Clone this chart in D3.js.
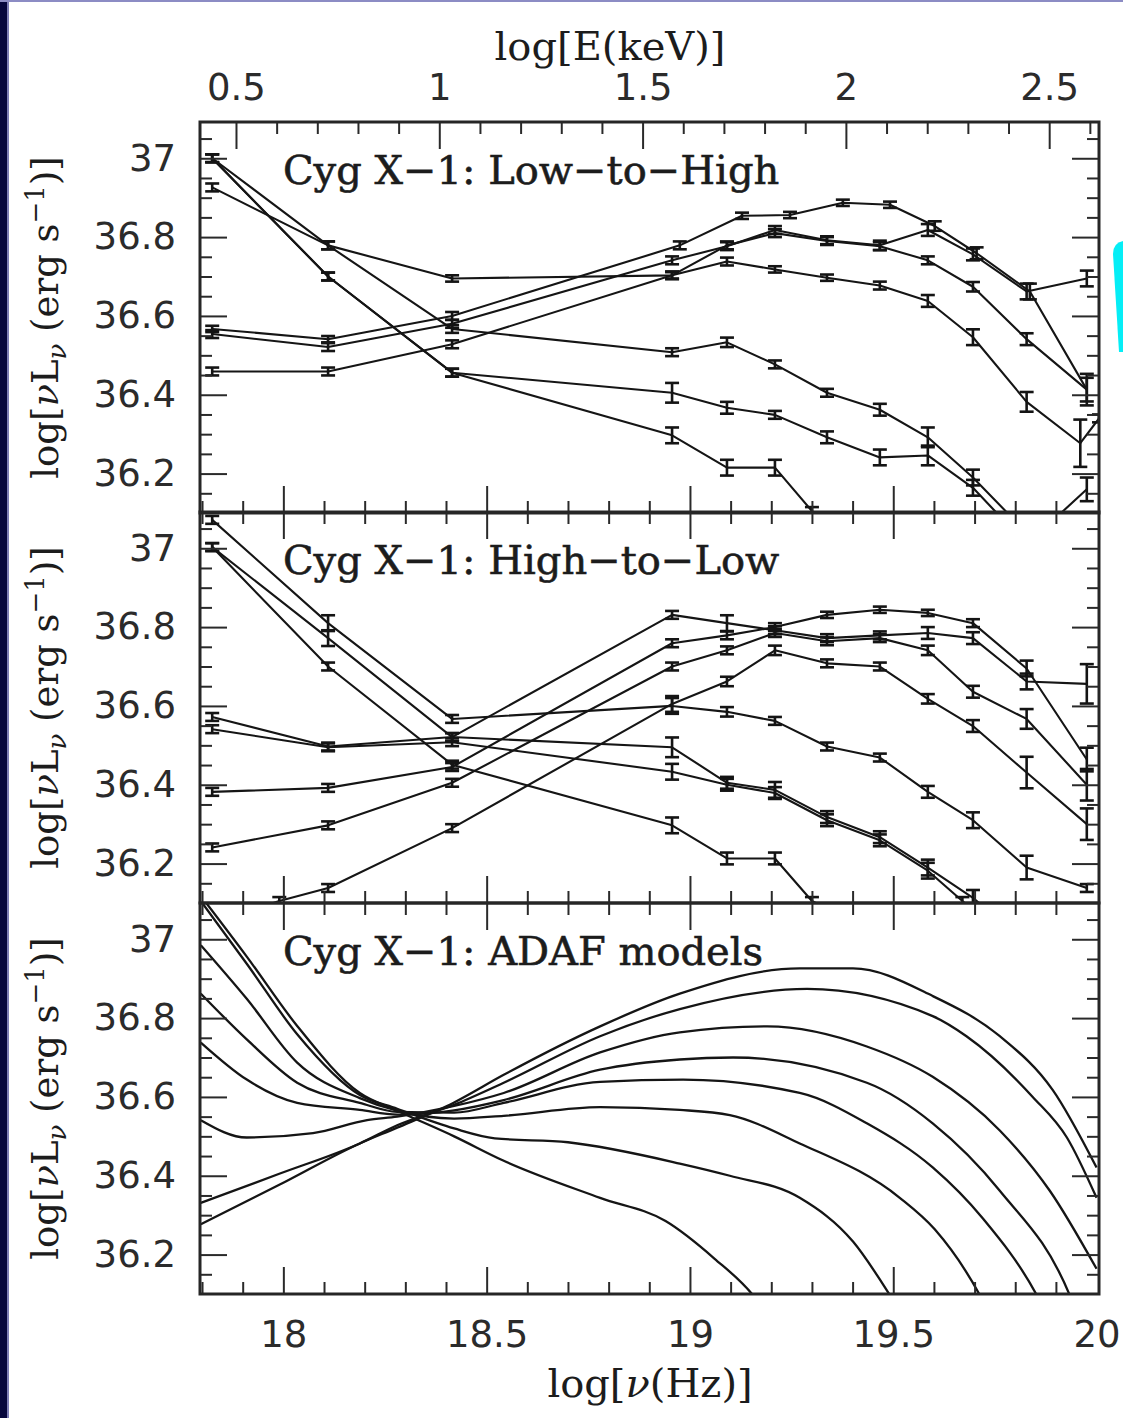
<!DOCTYPE html>
<html>
<head>
<meta charset="utf-8">
<script src="https://cdn.jsdelivr.net/npm/d3@7"></script>
<style>
  html, body { margin: 0; padding: 0; background: #fff; }
  svg { display: block; }
  .tick text { font-family: "DejaVu Sans", sans-serif; font-size: 37px; fill: #2b2b2b; }
  .tick line { stroke: #2a2a2a; stroke-width: 2; }
  .domain { display: none; }
  .serif { font-family: "DejaVu Serif", serif; fill: #1c1c1c; }
</style>
</head>
<body>
<svg id="chart" width="1123" height="1418"></svg>
<script>
// ---- axis ticks ----
const nuTicks = [18, 18.5, 19, 19.5, 20];
const nuTickLabels = ["18", "18.5", "19", "19.5", "20"];
const eTicks = [0.5, 1, 1.5, 2, 2.5];
const eTickLabels = ["0.5", "1", "1.5", "2", "2.5"];
const lumTicks = [36.2, 36.4, 36.6, 36.8, 37];
const lumTickLabels = ["36.2", "36.4", "36.6", "36.8", "37"];
const panelTitles = ["Cyg X\u22121: Low\u2212to\u2212High", "Cyg X\u22121: High\u2212to\u2212Low", "Cyg X\u22121: ADAF models"];

// ---- data: [log nu, log nuLnu, error] (error defaults to a small bar) ----
const lowToHigh = [
  [[17.825,37.00],[18.11,36.70],[18.415,36.456],[18.956,36.405,0.025],[19.091,36.367,0.015],[19.209,36.349],[19.337,36.292,0.015],[19.467,36.241,0.02],[19.585,36.246,0.025],[19.696,36.164,0.02],[19.828,36.02],[19.976,36.16,0.03]],
  [[17.825,37.00],[18.11,36.70],[18.415,36.456],[18.956,36.297,0.02],[19.091,36.215,0.02],[19.209,36.215,0.02],[19.30,36.105],[19.45,36.0]],
  [[17.825,37.00],[18.11,36.779],[18.415,36.567],[18.956,36.508],[19.091,36.533,0.012],[19.209,36.477],[19.337,36.405],[19.467,36.362,0.015],[19.585,36.292,0.025],[19.696,36.19,0.02],[19.828,36.05]],
  [[17.825,36.926],[18.11,36.779],[18.415,36.695,0.008],[18.956,36.703,0.008],[19.091,36.738],[19.209,36.718,0.008],[19.337,36.697,0.008],[19.467,36.677],[19.585,36.638,0.015],[19.696,36.546,0.02],[19.828,36.382,0.025],[19.96,36.277,0.06],[20.006,36.34]],
  [[17.825,36.567,0.008],[18.11,36.541,0.008],[18.415,36.60],[18.975,36.779],[19.128,36.854,0.008],[19.246,36.856,0.008],[19.376,36.887,0.008],[19.492,36.882,0.008],[19.602,36.828,0.012],[19.705,36.759,0.015],[19.836,36.662,0.02],[19.976,36.413,0.04]],
  [[17.825,36.554],[18.11,36.521],[18.415,36.58],[18.956,36.741],[19.091,36.777],[19.209,36.818],[19.337,36.792],[19.467,36.779,0.012],[19.585,36.818,0.015],[19.696,36.756,0.015],[19.828,36.662,0.02],[19.976,36.695,0.02]],
  [[17.825,36.459],[18.11,36.459],[18.415,36.528],[18.956,36.703],[19.091,36.779],[19.209,36.810],[19.337,36.79],[19.467,36.777],[19.585,36.741],[19.696,36.674,0.012],[19.828,36.541,0.015],[19.976,36.413,0.03]]
];

const highToLow = [
  [[17.825,37.072],[18.11,36.81,0.02],[18.415,36.567],[18.956,36.60,0.02],[19.091,36.585,0.012],[19.209,36.562],[19.337,36.497],[19.467,36.469],[19.585,36.382,0.015],[19.696,36.31,0.02],[19.828,36.19,0.03],[19.976,36.138]],
  [[17.825,37.003],[18.11,36.772,0.02],[18.415,36.521],[18.956,36.495,0.025],[19.091,36.405,0.015],[19.209,36.387,0.02],[19.337,36.318,0.015],[19.467,36.267,0.015],[19.585,36.19,0.02],[19.696,36.113,0.02],[19.78,36.04]],
  [[17.825,37.003],[18.11,36.70],[18.415,36.451],[18.956,36.297,0.02],[19.091,36.213,0.015],[19.209,36.213,0.015],[19.30,36.105],[19.45,36.03]],
  [[17.825,36.541],[18.11,36.495],[18.415,36.508],[18.956,36.433,0.02],[19.091,36.40,0.015],[19.209,36.379,0.015],[19.337,36.31,0.015],[19.467,36.259,0.015],[19.585,36.182,0.02],[19.67,36.105],[19.76,36.03]],
  [[17.825,36.572],[18.11,36.497],[18.415,36.521],[18.956,36.831],[19.091,36.81,0.02],[19.209,36.792],[19.337,36.772],[19.467,36.779],[19.585,36.785,0.015],[19.696,36.772,0.015],[19.828,36.662,0.02],[19.976,36.656,0.05]],
  [[17.825,36.382],[18.11,36.392],[18.415,36.445],[18.956,36.759],[19.091,36.779],[19.209,36.80],[19.337,36.831,0.008],[19.467,36.844,0.008],[19.585,36.836,0.008],[19.696,36.81],[19.828,36.695,0.02],[19.976,36.464,0.03]],
  [[17.825,36.241],[18.11,36.297],[18.415,36.405],[18.956,36.70],[19.091,36.741],[19.209,36.785],[19.337,36.764],[19.467,36.772],[19.585,36.741,0.012],[19.696,36.636,0.015],[19.828,36.567,0.025],[19.976,36.40,0.04]],
  [[17.77,36.03],[17.99,36.105],[18.11,36.138],[18.415,36.29],[18.956,36.605,0.02],[19.091,36.662,0.012],[19.209,36.741,0.012],[19.337,36.708],[19.467,36.70],[19.585,36.618,0.012],[19.696,36.549,0.015],[19.828,36.431,0.04],[19.976,36.30,0.04]]
];

const adafModels = [
  [[17.797,37.11],[17.91,36.956],[18.034,36.78],[18.188,36.61],[18.28,36.565],[18.42,36.50],[18.542,36.438],[18.779,36.344],[18.94,36.285],[19.06,36.19],[19.155,36.097],[19.22,36.0]],
  [[17.797,37.097],[17.91,36.938],[18.034,36.759],[18.188,36.605],[18.28,36.57],[18.42,36.52],[18.52,36.495],[18.7,36.485],[18.975,36.431],[19.098,36.40],[19.27,36.344],[19.401,36.233],[19.492,36.097],[19.55,36.0]],
  [[17.797,36.985],[17.91,36.849],[18.034,36.687],[18.188,36.597],[18.28,36.565],[18.42,36.545],[18.542,36.552],[18.779,36.574],[18.975,36.567],[19.098,36.554],[19.27,36.482],[19.516,36.344],[19.602,36.264],[19.713,36.097],[19.76,36.0]],
  [[17.797,36.862],[17.91,36.746],[18.034,36.636],[18.188,36.585],[18.28,36.562],[18.42,36.56],[18.542,36.585],[18.779,36.638],[18.983,36.644],[19.27,36.61],[19.435,36.533],[19.597,36.421],[19.72,36.292],[19.853,36.097],[19.9,36.0]],
  [[17.797,36.738],[17.91,36.644],[18.034,36.585],[18.188,36.567],[18.28,36.555],[18.42,36.566],[18.542,36.592],[18.779,36.669],[18.975,36.695],[19.106,36.70],[19.435,36.636],[19.597,36.533],[19.762,36.362],[19.934,36.097],[19.97,36.0]],
  [[17.797,36.541],[17.91,36.497],[18.073,36.508],[18.206,36.541],[18.28,36.55],[18.42,36.577],[18.542,36.61],[18.779,36.713],[18.975,36.764],[19.19,36.779],[19.435,36.728],[19.597,36.651],[19.762,36.515],[19.885,36.362],[20.0,36.164]],
  [[17.797,36.331],[17.99,36.405],[18.188,36.482],[18.28,36.528],[18.42,36.58],[18.542,36.636],[18.779,36.754],[18.975,36.823],[19.288,36.874],[19.597,36.805],[19.68,36.754],[19.843,36.60],[19.927,36.497],[20.0,36.344]],
  [[17.797,36.277],[17.99,36.377],[18.188,36.482],[18.28,36.522],[18.42,36.586],[18.542,36.656],[18.779,36.779],[18.975,36.862],[19.27,36.926],[19.401,36.926],[19.597,36.856],[19.762,36.754],[19.892,36.618],[20.0,36.421]]
];

// ---- layout ----
const svg = d3.select("#chart");
const left = 200, right = 1099, panelH = 391;
const panelTops = [122, 512, 903];
const keV = 17.3835; // log10 of 1 keV in Hz

const x = d3.scaleLinear().domain([17.795, 20.006]).range([left, right]);
const xE = d3.scaleLinear().domain([17.795 - keV, 20.006 - keV]).range([left, right]);

// page border bits
svg.append("rect").attr("width", 1123).attr("height", 1418).attr("fill", "#fff");
svg.append("rect").attr("x", 0).attr("y", 0).attr("width", 7).attr("height", 1418).attr("fill", "#06063c");
svg.append("rect").attr("x", 7).attr("y", 0).attr("width", 2).attr("height", 1418).attr("fill", "#7d7db5");
svg.append("rect").attr("x", 0).attr("y", 0).attr("width", 1123).attr("height", 2).attr("fill", "#8c8cc4");
svg.append("path").attr("d", "M1113,254 Q1113,243 1123,241 L1123,352 L1119,352 Z").attr("fill", "#05eef6");

function errorBars(g, pts, xs, ys) {
  const m = g.append("g").selectAll("g").data(pts).enter().append("g")
    .attr("stroke", "#141414").attr("stroke-width", 2.6);
  const e = d => d[2] ?? 0.01;
  m.append("line")
    .attr("x1", d => xs(d[0])).attr("x2", d => xs(d[0]))
    .attr("y1", d => ys(d[1] - e(d))).attr("y2", d => ys(d[1] + e(d)));
  [1, -1].forEach(s => {
    m.append("line")
      .attr("x1", d => xs(d[0]) - 7).attr("x2", d => xs(d[0]) + 7)
      .attr("y1", d => ys(d[1] + s * e(d))).attr("y2", d => ys(d[1] + s * e(d)));
  });
}

function drawPanel(i, series, smooth) {
  const top = panelTops[i];
  const y = d3.scaleLinear().domain([36.1, 37.092]).range([top + panelH, top]);
  const g = svg.append("g");

  g.append("clipPath").attr("id", "clip" + i)
    .append("rect").attr("x", left).attr("y", top).attr("width", right - left).attr("height", panelH);

  const plot = g.append("g").attr("clip-path", `url(#clip${i})`);
  const line = d3.line().x(d => x(d[0])).y(d => y(d[1]))
    .curve(smooth ? d3.curveMonotoneX : d3.curveLinear);

  plot.selectAll("path.s").data(series).enter().append("path")
    .attr("class", "s")
    .attr("d", line)
    .attr("fill", "none")
    .attr("stroke", "#151515")
    .attr("stroke-width", smooth ? 2.3 : 2.1)
    .attr("stroke-linejoin", "round");

  if (!smooth) series.forEach(s => errorBars(plot, s, x, y));

  // y axes (inward ticks)
  const yMinor = y.ticks(20).filter(v => v > 36.11 && !lumTicks.some(t => Math.abs(t - v) < 1e-6));
  g.append("g").attr("transform", `translate(${left},0)`)
    .call(d3.axisLeft(y).tickValues(lumTicks).tickSize(-27).tickPadding(24)
      .tickFormat((d, k) => lumTickLabels[k]));
  g.append("g").attr("transform", `translate(${left},0)`)
    .call(d3.axisLeft(y).tickValues(yMinor).tickSize(-12).tickFormat(""));
  g.append("g").attr("transform", `translate(${right},0)`)
    .call(d3.axisRight(y).tickValues(lumTicks).tickSize(-27).tickFormat(""));
  g.append("g").attr("transform", `translate(${right},0)`)
    .call(d3.axisRight(y).tickValues(yMinor).tickSize(-12).tickFormat(""));

  // x axes
  const nuMinor = x.ticks(22).filter(v => !nuTicks.some(t => Math.abs(t - v) < 1e-6) && v < 20);
  const isLast = i === panelTops.length - 1;
  g.append("g").attr("transform", `translate(0,${top + panelH})`)
    .call(d3.axisBottom(x).tickValues(nuTicks.filter(v => v < 20)).tickSize(-27).tickPadding(27)
      .tickFormat(isLast ? (d, k) => nuTickLabels[k] : ""));
  g.append("g").attr("transform", `translate(0,${top + panelH})`)
    .call(d3.axisBottom(x).tickValues(nuMinor).tickSize(-12).tickFormat(""));

  if (i === 0) {
    const eMinor = xE.ticks(22).filter(v => !eTicks.some(t => Math.abs(t - v) < 1e-6));
    g.append("g").attr("transform", `translate(0,${top})`)
      .call(d3.axisTop(xE).tickValues(eTicks).tickSize(-27).tickPadding(22)
        .tickFormat((d, k) => eTickLabels[k]));
    g.append("g").attr("transform", `translate(0,${top})`)
      .call(d3.axisTop(xE).tickValues(eMinor).tickSize(-12).tickFormat(""));
  } else {
    g.append("g").attr("transform", `translate(0,${top})`)
      .call(d3.axisTop(x).tickValues(nuTicks.filter(v => v < 20)).tickSize(-27).tickFormat(""));
    g.append("g").attr("transform", `translate(0,${top})`)
      .call(d3.axisTop(x).tickValues(nuMinor).tickSize(-12).tickFormat(""));
  }

  // frame
  g.append("rect").attr("x", left).attr("y", top).attr("width", right - left).attr("height", panelH)
    .attr("fill", "none").attr("stroke", "#262626").attr("stroke-width", 3);

  // panel title
  g.append("text").attr("class", "serif").attr("x", 283).attr("y", top + 62)
    .style("font-size", "40px").attr("stroke", "#1c1c1c").attr("stroke-width", 0.6)
    .text(panelTitles[i]);

  // y label
  const yl = g.append("text").attr("class", "serif")
    .attr("transform", `translate(58,${top + panelH / 2}) rotate(-90)`)
    .attr("text-anchor", "middle").style("font-size", "37px");
  yl.append("tspan").text("log[");
  yl.append("tspan").style("font-style", "italic").text("\u03bd");
  yl.append("tspan").text("L");
  yl.append("tspan").attr("dy", 8).style("font-size", "26px").style("font-style", "italic").text("\u03bd");
  yl.append("tspan").attr("dy", -8).text(" (erg s");
  yl.append("tspan").attr("dy", -14).style("font-size", "26px").text("\u22121");
  yl.append("tspan").attr("dy", 14).text(")]");
}

drawPanel(0, lowToHigh, false);
drawPanel(1, highToLow, false);
drawPanel(2, adafModels, true);

// the 20 label sits on the right frame edge
svg.append("g").attr("transform", `translate(0,${panelTops[2] + panelH})`)
  .call(d3.axisBottom(x).tickValues([20]).tickSize(0).tickPadding(27).tickFormat(() => nuTickLabels[4]));

// axis titles
svg.append("text").attr("class", "serif").attr("x", 610).attr("y", 60)
  .attr("text-anchor", "middle").style("font-size", "40px").text("log[E(keV)]");
const bt = svg.append("text").attr("class", "serif").attr("x", 650).attr("y", 1397)
  .attr("text-anchor", "middle").style("font-size", "40px");
bt.append("tspan").text("log[");
bt.append("tspan").style("font-style", "italic").text("\u03bd");
bt.append("tspan").text("(Hz)]");
</script>
</body>
</html>
